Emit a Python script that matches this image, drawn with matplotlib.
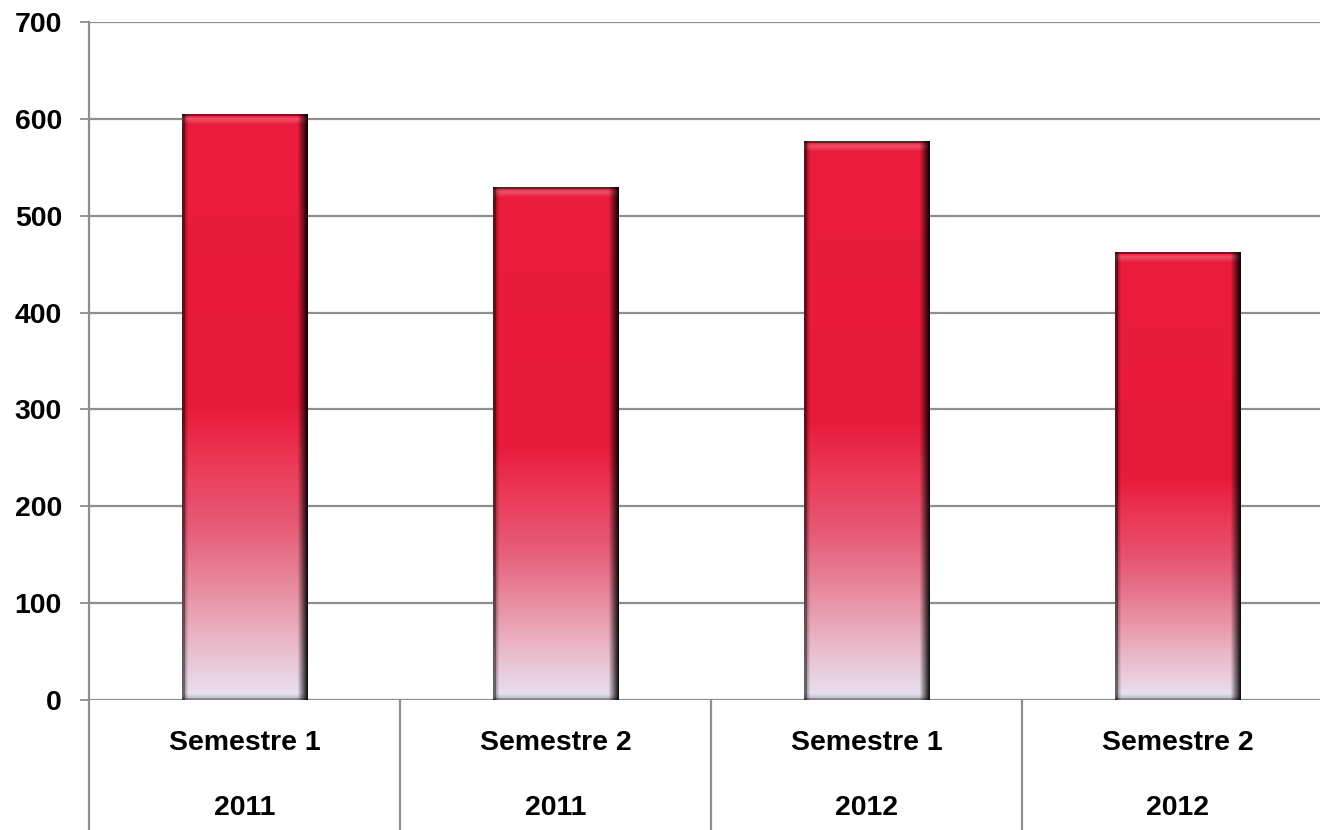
import matplotlib
matplotlib.use("Agg")
import matplotlib.pyplot as plt
import matplotlib.transforms as mtransforms
from matplotlib.colors import to_rgb
import numpy as np

# 데이터
semesters = ["Semestre 1", "Semestre 2", "Semestre 1", "Semestre 2"]
years = ["2011", "2011", "2012", "2012"]
values = [605, 529, 577, 462]
y_ticks = [0, 100, 200, 300, 400, 500, 600, 700]

FONT = dict(family="Liberation Sans", fontweight="bold", fontsize=20.4, color="black")
GRID = "#8e8e8e"

# 세로 그라데이션 정지점 (위 → 아래)
STOPS = [(0.0, "#eb1c3c"), (0.5, "#e81a3a"), (0.6, "#ec3a58"), (0.7, "#e65a75"),
         (0.8, "#e8889c"), (0.9, "#eab8c8"), (1.0, "#e8e4f2")]


def bar_image(rows, cols):
    t = np.linspace(0, 1, rows)
    pos = [s[0] for s in STOPS]
    cs = np.array([to_rgb(s[1]) for s in STOPS])
    col = np.stack([np.interp(t, pos, cs[:, k]) for k in range(3)], axis=1)
    img = np.repeat(col[:, None, :], cols, axis=1)
    # 위쪽 베벨: 얇은 어두운 가장자리 + 부드러운 하이라이트
    img[0:2] *= 0.6
    hl = np.concatenate([np.linspace(0.05, 0.2, 3), np.linspace(0.2, 0.0, 6)])[:, None, None]
    img[2:11] = img[2:11] * (1 - hl) + hl
    # 아래쪽 회색 베벨
    bot = np.linspace(0.0, 0.65, 7)[:, None, None]
    img[-7:] = img[-7:] * (1 - bot) + np.array([0.58, 0.58, 0.63]) * bot
    img[-2:] *= 0.75
    # 왼쪽/오른쪽 음영
    left = np.ones(cols)
    left[:3] = 0.45
    left[3:7] = np.linspace(0.75, 1.0, 4)
    right = np.ones(cols)
    right[-11:] = np.linspace(1.0, 0.08, 11)
    img *= (left * right)[None, :, None]
    return np.clip(img, 0, 1)


fig = plt.figure(figsize=(13.2, 8.3), dpi=100)
ax = fig.add_axes([89 / 1320, 1 - 700 / 830, 1244 / 1320, 678 / 830])

x = np.arange(len(values))
bars = ax.bar(x, values, width=0.405, color="none", edgecolor="none", zorder=2)
ax.set_xlim(-0.5, len(values) - 0.5)
ax.set_ylim(0, 700)

for b in bars:
    x0, w, h = b.get_x(), b.get_width(), b.get_height()
    rows = max(int(h * 0.97), 20)
    ax.imshow(bar_image(rows, 126), extent=[x0, x0 + w, 0, h],
              aspect="auto", interpolation="bilinear", zorder=3)

ax.set_yticks(y_ticks)
ax.set_yticklabels([str(v) for v in y_ticks], **FONT)
ax.yaxis.grid(True, color=GRID, linewidth=1.6)
ax.set_axisbelow(True)
ax.tick_params(axis="y", length=6.5, width=1.3, color=GRID, pad=13)
ax.tick_params(axis="x", length=0, labelbottom=False)
for s in ("top", "right", "bottom"):
    ax.spines[s].set_visible(False)
ax.spines["left"].set_color(GRID)
ax.spines["left"].set_linewidth(1.6)

# 카테고리 영역: 구분선과 두 줄 라벨
tr = mtransforms.blended_transform_factory(ax.transData, ax.transAxes)
for xd in np.arange(-0.5, len(values), 1.0):
    ax.plot([xd, xd], [0, -0.2], transform=tr, color=GRID, linewidth=1.6, clip_on=False)
for i, (s, yv) in enumerate(zip(semesters, years)):
    ax.text(i, -(743 - 700) / 678, s, transform=tr, ha="center", va="center", **FONT)
    ax.text(i, -(808 - 700) / 678, yv, transform=tr, ha="center", va="center", **FONT)

fig.savefig("out.png", facecolor="white")
